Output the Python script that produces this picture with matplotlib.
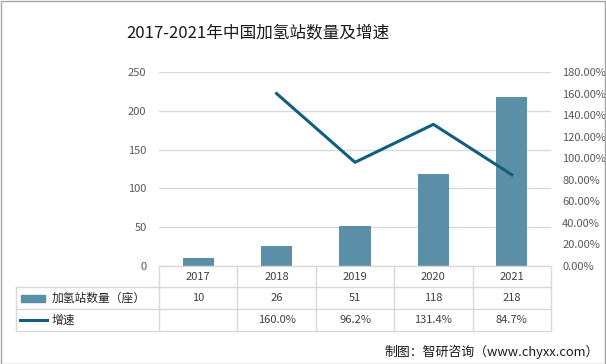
import matplotlib
matplotlib.use("Agg")
import matplotlib.pyplot as plt
import matplotlib.transforms as mtransforms
from matplotlib.patches import Rectangle
from matplotlib.lines import Line2D

plt.rcParams['font.family'] = ['Noto Sans CJK SC', 'DejaVu Sans']

# datos
years = ["2017", "2018", "2019", "2020", "2021"]
stations = [10, 26, 51, 118, 218]
growth = [None, 160.0, 96.2, 131.4, 84.7]
bar_label = "加氢站数量（座）"
line_label = "增速"
title = "2017-2021年中国加氢站数量及增速"
source = "制图：智研咨询（www.chyxx.com）"

bar_color = "#5B8FA8"
line_color = "#125E7E"
grid_color = "#D9D9D9"
tick_color = "#595959"
text_color = "#404040"

W, H = 606, 364
fig = plt.figure(figsize=(W / 100, H / 100), dpi=100)

def fx(px):
    return px / W

def fy(py):
    return 1 - py / H

# marco exterior
fig.add_artist(Rectangle((0.5 / W, 0.5 / H), 1 - 1.5 / W, 1 - 1.5 / H,
                         transform=fig.transFigure, fill=False,
                         edgecolor="#A6A6A6", linewidth=1))

x0, x1, ytop, ybot = 159, 551, 72, 266
ax = fig.add_axes([fx(x0), fy(ybot), fx(x1 - x0), (ybot - ytop) / H])
xs = list(range(len(years)))
ax.bar(xs, stations, width=0.4, color=bar_color, zorder=3)
ax.set_xlim(-0.5, len(years) - 0.5)
ax.set_ylim(0, 250)
ax.set_yticks(range(0, 251, 50))
ax.yaxis.grid(True, color=grid_color, linewidth=1)
ax.set_axisbelow(True)
ax.set_xticks([])
for s in ax.spines.values():
    s.set_visible(False)
ax.tick_params(axis="y", length=0, labelsize=8, labelcolor=tick_color, pad=9)

ax2 = ax.twinx()
gx = [x for x, g in zip(xs, growth) if g is not None]
gy = [g for g in growth if g is not None]
ax2.plot(gx, gy, color=line_color, linewidth=2.2, zorder=4)
ax2.set_ylim(0, 180)
ax2.set_yticks(range(0, 181, 20))
ax2.set_yticklabels([f"{v:.2f}%" for v in range(0, 181, 20)])
for s in ax2.spines.values():
    s.set_visible(False)
ax2.tick_params(axis="y", length=0, labelsize=8, labelcolor=tick_color, pad=8)

# tabla de datos
tr = mtransforms.blended_transform_factory(ax.transData, fig.transFigure)
rows_y = [266, 287, 309, 331]
lw = 1
for i in range(len(years) + 1):
    fig.add_artist(Line2D([i - 0.5, i - 0.5], [fy(rows_y[0]), fy(rows_y[-1])],
                          transform=tr, color=grid_color, linewidth=lw))
for k, yy in enumerate(rows_y):
    left = fx(x0) if k == 0 else fx(16)
    fig.add_artist(Line2D([left, fx(x1)], [fy(yy), fy(yy)],
                          transform=fig.transFigure, color=grid_color, linewidth=lw))
fig.add_artist(Line2D([fx(16), fx(16)], [fy(rows_y[1]), fy(rows_y[-1])],
                      transform=fig.transFigure, color=grid_color, linewidth=lw))

def mid(a, b):
    return fy((rows_y[a] + rows_y[b]) / 2)

for i, yr in enumerate(years):
    fig.text(i, mid(0, 1), yr, transform=tr, ha="center", va="center",
             fontsize=8, color=text_color)
    fig.text(i, mid(1, 2), str(stations[i]), transform=tr, ha="center",
             va="center", fontsize=8, color=text_color)
    if growth[i] is not None:
        fig.text(i, mid(2, 3), f"{growth[i]:.1f}%", transform=tr, ha="center",
                 va="center", fontsize=8, color=text_color)

# leyenda en la tabla
fig.add_artist(Rectangle((fx(21), mid(1, 2) - 3.5 / H), fx(24), 7 / H,
                         transform=fig.transFigure, color=bar_color))
fig.text(fx(52), mid(1, 2), bar_label, ha="left", va="center",
         fontsize=8.5, color="#262626")
fig.add_artist(Line2D([fx(20), fx(47)], [mid(2, 3), mid(2, 3)],
                      transform=fig.transFigure, color=line_color, linewidth=2.2))
fig.text(fx(52), mid(2, 3), line_label, ha="left", va="center",
         fontsize=8.5, color="#262626")

fig.text(fx(258), fy(33), title, ha="center", va="center", fontsize=12,
         fontweight="medium", color="#1a1a1a")
fig.text(fx(599), fy(352), source, ha="right", va="center", fontsize=9.3,
         color="#1a1a1a")

fig.savefig("out.png", dpi=100)
